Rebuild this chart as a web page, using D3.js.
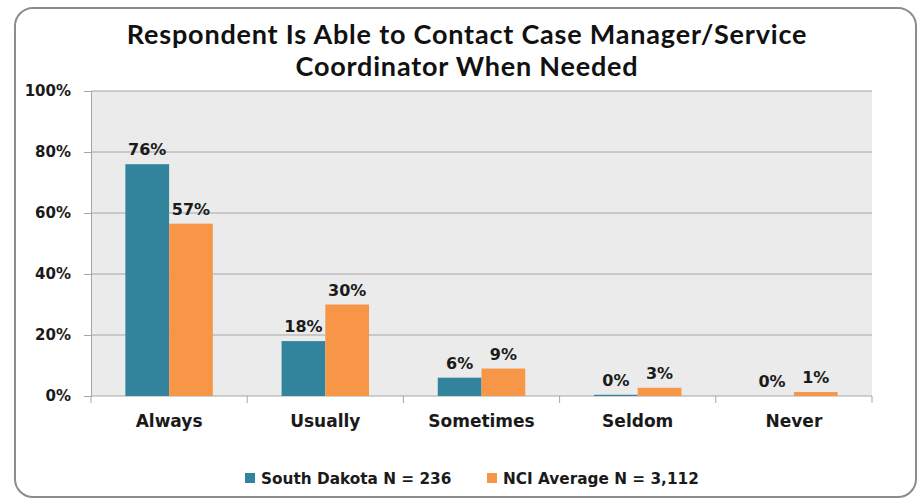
<!DOCTYPE html>
<html>
<head>
<meta charset="utf-8">
<script src="https://cdn.jsdelivr.net/npm/d3@7"></script>
<style>
  body { margin: 0; background: #fff; }
  .lbl { font-family: "DejaVu Sans", Verdana, sans-serif; font-weight: bold; fill: #1a1a1a; }
  .title { font-family: Lato, "Open Sans", sans-serif; font-weight: bold; fill: #111; letter-spacing: 0.8px; }
</style>
</head>
<body>
<div id="chart"></div>
<script>
// data
let categories = ["Always", "Usually", "Sometimes", "Seldom", "Never"];
let seriesNames = ["South Dakota N = 236", "NCI Average N = 3,112"];
let southDakota = [76, 18, 6, 0.4, 0];
let nciAverage = [56.5, 30, 9, 2.7, 1.3];
let yTicks = [0, 20, 40, 60, 80, 100];
let titleLines = ["Respondent Is Able to Contact Case Manager/Service", "Coordinator When Needed"];

let colors = ["#31849b", "#f79646"];

// svg size
let svgWidth = 918;
let svgHeight = 500;

let margin = { top: 91, right: 46, bottom: 104, left: 91 };
let width = svgWidth - margin.left - margin.right;
let height = svgHeight - margin.top - margin.bottom;

let svg = d3.select("#chart")
  .append("svg")
  .attr("width", svgWidth)
  .attr("height", svgHeight);

// outer frame
svg.append("rect")
  .attr("x", 15)
  .attr("y", 8)
  .attr("width", 901)
  .attr("height", 489)
  .attr("rx", 18)
  .attr("fill", "#fff")
  .attr("stroke", "#8c8c8c")
  .attr("stroke-width", 2);

// title
svg.append("g").selectAll("text")
  .data(titleLines)
  .enter()
  .append("text")
  .attr("class", "title")
  .attr("x", 467)
  .attr("y", (d, i) => 44 + i * 32)
  .attr("text-anchor", "middle")
  .attr("font-size", 27)
  .text(d => d);

let chart = svg.append("g")
  .attr("transform", `translate(${margin.left}, ${margin.top})`);

let x0 = d3.scaleBand()
  .domain(categories)
  .range([0, width])
  .paddingInner(0.44)
  .paddingOuter(0.22);

let x1 = d3.scaleBand()
  .domain([0, 1])
  .range([0, x0.bandwidth()]);

let y = d3.scaleLinear()
  .domain([0, 100])
  .range([height, 0]);

// plot background
chart.append("rect")
  .attr("width", width)
  .attr("height", height)
  .attr("fill", "#ebebeb");

// gridlines
chart.append("g")
  .selectAll("line")
  .data(yTicks.slice(1))
  .enter()
  .append("line")
  .attr("x1", 0)
  .attr("x2", width)
  .attr("y1", d => y(d))
  .attr("y2", d => y(d))
  .attr("stroke", "#a6a6a6")
  .attr("stroke-width", 1);

// y axis
let leftAxis = d3.axisLeft(y)
  .tickValues(yTicks)
  .tickFormat(d => d + "%")
  .tickSize(7)
  .tickPadding(13);

let yAxis = chart.append("g").call(leftAxis);
yAxis.select(".domain").attr("stroke", "#a6a6a6");
yAxis.selectAll(".tick line").attr("stroke", "#a6a6a6");
yAxis.selectAll(".tick text")
  .attr("class", "lbl")
  .attr("font-size", 15)
  .attr("fill", "#1a1a1a");

// x axis line and category separators
let xAxis = chart.append("g").attr("transform", `translate(0, ${height})`);
xAxis.append("line")
  .attr("x1", 0).attr("x2", width)
  .attr("stroke", "#a6a6a6");
xAxis.selectAll("line.sep")
  .data(d3.range(categories.length + 1))
  .enter()
  .append("line")
  .attr("class", "sep")
  .attr("x1", i => i * width / categories.length)
  .attr("x2", i => i * width / categories.length)
  .attr("y1", 0)
  .attr("y2", 7)
  .attr("stroke", "#a6a6a6");
xAxis.selectAll("text")
  .data(categories)
  .enter()
  .append("text")
  .attr("class", "lbl")
  .attr("x", d => x0(d) + x0.bandwidth() / 2)
  .attr("y", 31)
  .attr("text-anchor", "middle")
  .attr("font-size", 17)
  .text(d => d);

// bars
let rows = categories.map((c, i) => ({ cat: c, vals: [southDakota[i], nciAverage[i]] }));

let groups = chart.selectAll("g.cat")
  .data(rows)
  .enter()
  .append("g")
  .attr("class", "cat")
  .attr("transform", d => `translate(${x0(d.cat)}, 0)`);

groups.selectAll("rect")
  .data(d => d.vals.map((v, k) => ({ v: v, k: k })))
  .enter()
  .append("rect")
  .attr("x", d => x1(d.k))
  .attr("y", d => y(d.v))
  .attr("width", x1.bandwidth())
  .attr("height", d => height - y(d.v))
  .attr("fill", d => colors[d.k]);

// value labels
groups.selectAll("text")
  .data(d => d.vals.map((v, k) => ({ v: v, k: k })))
  .enter()
  .append("text")
  .attr("class", "lbl")
  .attr("x", d => x1(d.k) + x1.bandwidth() / 2)
  .attr("y", d => y(d.v) - 9)
  .attr("text-anchor", "middle")
  .attr("font-size", 16)
  .text(d => Math.round(d.v) + "%");

// legend
let legend = svg.append("g").attr("transform", "translate(245, 484)");
let legendX = [0, 242];
seriesNames.forEach((name, i) => {
  legend.append("rect")
    .attr("x", legendX[i])
    .attr("y", -11)
    .attr("width", 10)
    .attr("height", 10)
    .attr("fill", colors[i]);
  legend.append("text")
    .attr("class", "lbl")
    .attr("x", legendX[i] + 16)
    .attr("y", 0)
    .attr("font-size", 15.3)
    .text(name);
});
</script>
</body>
</html>
